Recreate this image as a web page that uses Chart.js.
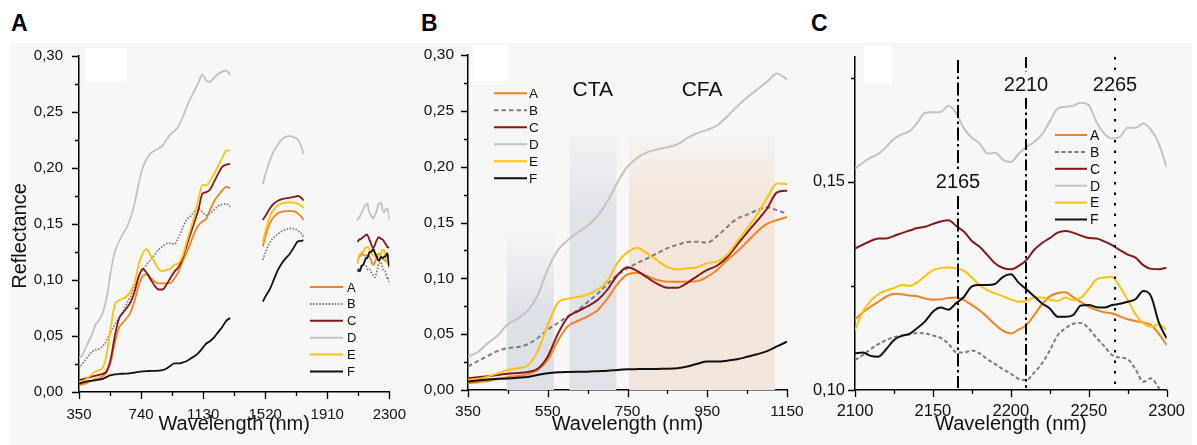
<!DOCTYPE html>
<html><head><meta charset="utf-8">
<script src="https://cdn.jsdelivr.net/npm/chart.js@4.4.1/dist/chart.umd.min.js"></script>
<style>
html,body{margin:0;padding:0;background:#fff;}
body{width:1197px;height:445px;position:relative;overflow:hidden;font-family:"Liberation Sans",Arial,sans-serif;}
#bg{position:absolute;left:10px;top:43px;width:1182px;height:402px;background:#f7f7f7;}
.sq{position:absolute;background:#fff;}
.pl{position:absolute;font-weight:bold;font-size:23px;line-height:1;color:#000;}
canvas{position:absolute;top:0;}
</style></head><body>
<div id="bg"></div>
<div class="sq" style="left:85px;top:48px;width:41px;height:34px"></div>
<div class="sq" style="left:473px;top:45px;width:35px;height:36px"></div>
<div class="sq" style="left:864px;top:46px;width:28px;height:38px"></div>
<div class="pl" style="left:11px;top:12px">A</div>
<div class="pl" style="left:421px;top:12px">B</div>
<div class="pl" style="left:811px;top:12px">C</div>
<canvas id="cA" style="left:0px" width="420" height="445"></canvas>
<canvas id="cB" style="left:400px" width="420" height="445"></canvas>
<canvas id="cC" style="left:800px" width="397" height="445"></canvas>
<script>
// ---------------- DATA ----------------
const seriesNames = ['A', 'B', 'C', 'D', 'E', 'F'];

// VNIR region (350–1300 nm)
const wlVnir = [350,375,400,425,450,475,500,525,550,575,600,625,650,675,700,725,750,775,800,825,850,875,900,925,950,975,1000,1025,1050,1075,1100,1125,1150,1175,1200,1225,1250,1275,1300];
const vnirA = [0.006,0.007,0.008,0.0098,0.0115,0.0125,0.014,0.018,0.027,0.044,0.057,0.0618,0.066,0.0715,0.082,0.095,0.1035,0.105,0.102,0.0985,0.097,0.097,0.097,0.0975,0.1015,0.1075,0.1164,0.124,0.1328,0.1418,0.1487,0.1522,0.155,0.163,0.1705,0.1755,0.180,0.1832,0.182];
const vnirB = [0.021,0.026,0.0305,0.035,0.0375,0.0385,0.041,0.0465,0.054,0.060,0.066,0.0716,0.0787,0.0862,0.095,0.103,0.1088,0.1138,0.118,0.1225,0.127,0.130,0.1325,0.1328,0.132,0.138,0.146,0.1535,0.157,0.161,0.1636,0.161,0.1578,0.160,0.163,0.166,0.1675,0.168,0.1655];
const vnirC = [0.0104,0.0115,0.0123,0.0135,0.0145,0.0153,0.0162,0.019,0.030,0.050,0.065,0.0705,0.075,0.0805,0.090,0.103,0.110,0.1065,0.1005,0.095,0.0915,0.0915,0.096,0.102,0.1075,0.1115,0.119,0.130,0.141,0.1515,0.1625,0.177,0.1785,0.181,0.188,0.195,0.201,0.203,0.2035];
const vnirD = [0.030,0.034,0.042,0.049,0.059,0.064,0.071,0.085,0.108,0.125,0.134,0.141,0.147,0.156,0.169,0.186,0.200,0.208,0.213,0.2155,0.2175,0.220,0.2255,0.230,0.233,0.237,0.245,0.254,0.262,0.269,0.276,0.2835,0.278,0.277,0.281,0.284,0.286,0.287,0.283];
const vnirE = [0.009,0.010,0.012,0.015,0.018,0.0195,0.022,0.035,0.058,0.078,0.0818,0.0832,0.0855,0.090,0.098,0.114,0.1235,0.1275,0.122,0.116,0.110,0.108,0.109,0.110,0.1138,0.115,0.121,0.133,0.145,0.157,0.172,0.185,0.1845,0.189,0.195,0.202,0.209,0.2155,0.2155];
const vnirF = [0.0075,0.0085,0.0095,0.0100,0.0104,0.011,0.0117,0.0135,0.015,0.0158,0.0161,0.0163,0.0164,0.0169,0.0173,0.018,0.0185,0.0187,0.0188,0.0189,0.019,0.0195,0.021,0.0235,0.0255,0.0255,0.0263,0.0275,0.0297,0.032,0.0348,0.039,0.0433,0.0455,0.049,0.0535,0.058,0.0635,0.066];

// SWIR-1 region (1505–1760 nm)
const wlSwir1 = [1505,1525,1550,1575,1600,1625,1650,1675,1700,1725,1750,1760];
const swir1A = [0.130,0.141,0.151,0.1565,0.1595,0.161,0.1615,0.1616,0.1612,0.1595,0.156,0.1536];
const swir1B = [0.118,0.126,0.1335,0.138,0.141,0.1435,0.145,0.146,0.1458,0.144,0.141,0.1387];
const swir1C = [0.1536,0.158,0.164,0.1683,0.1708,0.1722,0.1728,0.1735,0.1742,0.175,0.173,0.171];
const swir1D = [0.186,0.196,0.207,0.2155,0.221,0.2255,0.228,0.2285,0.2275,0.2255,0.218,0.2125];
const swir1E = [0.134,0.145,0.157,0.163,0.1665,0.1685,0.169,0.1693,0.169,0.168,0.166,0.164];
const swir1F = [0.0807,0.086,0.092,0.1005,0.109,0.115,0.1195,0.1235,0.129,0.1345,0.135,0.1357];

// SWIR-2 region (2100–2300 nm)
const wlSwir2 = [2100,2105,2110,2115,2120,2125,2130,2135,2140,2145,2150,2155,2160,2165,2170,2175,2180,2185,2190,2195,2200,2205,2210,2215,2220,2225,2230,2235,2240,2245,2250,2255,2260,2265,2270,2275,2280,2285,2290,2295,2300];
const swir2A = [0.1170,0.1186,0.1200,0.1212,0.1224,0.1231,0.1230,0.1227,0.1225,0.1220,0.1217,0.1218,0.1221,0.1222,0.1216,0.1204,0.1191,0.1175,0.1157,0.1142,0.1136,0.1145,0.1156,0.1180,0.1206,0.1225,0.1233,0.1235,0.1223,0.1211,0.1200,0.1192,0.1187,0.1184,0.1177,0.1170,0.1166,0.1162,0.1156,0.1135,0.1108];
const swir2B = [0.1072,0.1084,0.1098,0.1110,0.1120,0.1127,0.1131,0.1134,0.1137,0.1136,0.1131,0.1125,0.1111,0.1091,0.1090,0.1095,0.1088,0.1074,0.1062,0.1050,0.1039,0.1027,0.1024,0.1042,0.1064,0.1095,0.1131,0.1148,0.1159,0.1161,0.1148,0.1125,0.1105,0.1084,0.1078,0.1074,0.1050,0.1020,0.1028,0.1005,0.0980];
const swir2C = [0.1340,0.1349,0.1358,0.1364,0.1364,0.1370,0.1377,0.1383,0.1389,0.1392,0.1399,0.1405,0.1408,0.1394,0.1380,0.1358,0.1344,0.1324,0.1304,0.1293,0.1290,0.1298,0.1312,0.1337,0.1353,0.1365,0.1378,0.1382,0.1378,0.1371,0.1365,0.1364,0.1357,0.1348,0.1336,0.1325,0.1318,0.1300,0.1291,0.1290,0.1294];
const swir2D = [0.1532,0.1546,0.1558,0.1567,0.1584,0.1603,0.1614,0.1622,0.1642,0.1666,0.1667,0.1668,0.1683,0.1665,0.1628,0.1606,0.1592,0.1568,0.1570,0.1553,0.1548,0.1567,0.1584,0.1596,0.1614,0.1645,0.1676,0.1680,0.1683,0.1690,0.1684,0.1644,0.1616,0.1604,0.1608,0.1630,0.1630,0.1640,0.1625,0.1592,0.1536];
const swir2E = [0.1144,0.1188,0.1214,0.1230,0.1239,0.1245,0.1252,0.1250,0.1259,0.1274,0.1288,0.1293,0.1294,0.1292,0.1286,0.1270,0.1252,0.1240,0.1232,0.1225,0.1218,0.1212,0.1214,0.1222,0.1222,0.1217,0.1214,0.1222,0.1216,0.1222,0.1243,0.1266,0.1270,0.1272,0.1248,0.1216,0.1182,0.1160,0.1152,0.1158,0.1144];
const swir2F = [0.1088,0.1090,0.1082,0.1080,0.1098,0.1120,0.1130,0.1135,0.1149,0.1165,0.1188,0.1198,0.1193,0.1209,0.1224,0.1249,0.1252,0.1252,0.1255,0.1272,0.1278,0.1258,0.1242,0.1225,0.1208,0.1196,0.1176,0.1176,0.1180,0.1203,0.1204,0.1199,0.1198,0.1204,0.1207,0.1212,0.1218,0.1238,0.1225,0.1162,0.1124];

// Axis tick labels
const xTicksA = [350, 740, 1130, 1520, 1910, 2300];
const xMinorA = [545, 935, 1325, 1715, 2105];
const yTicksAB = [0, 0.05, 0.10, 0.15, 0.20, 0.25, 0.30];
const yMinorAB = [0.025, 0.075, 0.125, 0.175, 0.225, 0.275];
const xTicksB = [350, 550, 750, 950, 1150];
const xMinorB = [450, 650, 850, 1050];
const xTicksC = [2100, 2150, 2200, 2250, 2300];
const xMinorC = [2125, 2175, 2225, 2275];
const yTicksC = [0.10, 0.15];
const yMinorC = [0.125, 0.175];

// Panel B absorption bands
const bandStart = [447, 604, 754];
const bandEnd = [565, 722, 1120];
const bandTop = [0.142, 0.228, 0.227];
const bandLabels = ['', 'CTA', 'CFA'];

// Panel C feature markers
const markerWl = [2166, 2210, 2267];
const markerLabels = ['2165', '2210', '2265'];
const markerLabelY = [0.150, 0.1735, 0.1735];

// ---------------- STYLE ----------------
const FONT = '"Liberation Sans", Arial, Helvetica, sans-serif';
const colors = ['#f7821f', '#7d7d7d', '#861818', '#c2c2c2', '#ffc20e', '#101010'];
const vnir = [vnirA, vnirB, vnirC, vnirD, vnirE, vnirF];
const swir1 = [swir1A, swir1B, swir1C, swir1D, swir1E, swir1F];
const swir2 = [swir2A, swir2B, swir2C, swir2D, swir2E, swir2F];

function pts(wl, vals, maxWl) {
  const out = [];
  wl.forEach((w, i) => { if (maxWl === undefined || w <= maxWl) out.push({x: w, y: vals[i]}); });
  return out;
}

function makeDatasets(dataFn, dashB, width) {
  return seriesNames.map((name, i) => ({
    label: name,
    data: dataFn(i),
    borderColor: colors[i],
    backgroundColor: colors[i],
    borderWidth: width,
    borderDash: i === 1 ? dashB : [],
    pointRadius: 0,
    cubicInterpolationMode: 'monotone',
    spanGaps: false,
    fill: false,
    order: [5, 4, 3, 6, 2, 1][i]
  }));
}

const axisTicksPlugin = {
  id: 'axisTicks',
  afterDraw(chart, args, opts) {
    const ctx = chart.ctx, xs = chart.scales.x, ys = chart.scales.y;
    const a = chart.chartArea;
    ctx.save();
    ctx.strokeStyle = '#000';
    ctx.lineWidth = 1.3;
    ctx.beginPath();
    (opts.xMajor || []).forEach(v => { const p = Math.round(xs.getPixelForValue(v)) + 0.5; ctx.moveTo(p, a.bottom); ctx.lineTo(p, a.bottom + 7); });
    (opts.xMinor || []).forEach(v => { const p = Math.round(xs.getPixelForValue(v)) + 0.5; ctx.moveTo(p, a.bottom); ctx.lineTo(p, a.bottom + 4); });
    (opts.yMajor || []).forEach(v => { const p = Math.round(ys.getPixelForValue(v)) + 0.5; ctx.moveTo(a.left, p); ctx.lineTo(a.left - 7, p); });
    (opts.yMinor || []).forEach(v => { const p = Math.round(ys.getPixelForValue(v)) + 0.5; ctx.moveTo(a.left, p); ctx.lineTo(a.left - 4, p); });
    ctx.stroke();
    if (opts.yTitle) {
      ctx.fillStyle = '#111';
      ctx.font = '20px ' + FONT;
      ctx.textAlign = 'center';
      ctx.textBaseline = 'middle';
      ctx.translate(opts.yTitleX, opts.yTitleY);
      ctx.rotate(-Math.PI / 2);
      ctx.fillText(opts.yTitle, 0, 0);
    }
    ctx.restore();
  }
};

const customLegendPlugin = {
  id: 'customLegend',
  afterDatasetsDraw(chart, args, opts) {
    if (!opts || !opts.show) return;
    const ctx = chart.ctx;
    ctx.save();
    ctx.font = opts.fontSize + 'px ' + FONT;
    ctx.textBaseline = 'middle';
    ctx.textAlign = 'left';
    chart.data.datasets.forEach((ds, i) => {
      const y = opts.y0 + i * opts.dy;
      ctx.strokeStyle = ds.borderColor;
      ctx.lineWidth = 2;
      ctx.setLineDash(ds.borderDash || []);
      ctx.beginPath();
      ctx.moveTo(opts.x1, y);
      ctx.lineTo(opts.x2, y);
      ctx.stroke();
      ctx.setLineDash([]);
      ctx.fillStyle = '#111';
      ctx.fillText(ds.label, opts.tx, y + 1);
    });
    ctx.restore();
  }
};

const bandsPlugin = {
  id: 'bands',
  beforeDatasetsDraw(chart, args, opts) {
    if (!opts || !opts.show) return;
    const ctx = chart.ctx, xs = chart.scales.x, ys = chart.scales.y;
    const bottom = chart.chartArea.bottom;
    const styles = [
      {rgb: '221,224,231', a0: 0.05, s: 0.5},
      {rgb: '224,226,233', a0: 0.25, s: 0.3},
      {rgb: '243,229,218', a0: 0.25, s: 0.25}
    ];
    ctx.save();
    bandStart.forEach((s, i) => {
      const x0 = xs.getPixelForValue(s), x1 = xs.getPixelForValue(bandEnd[i]);
      const top = ys.getPixelForValue(bandTop[i]);
      const st = styles[i];
      const g = ctx.createLinearGradient(0, top, 0, bottom);
      g.addColorStop(0, 'rgba(' + st.rgb + ',' + st.a0 + ')');
      g.addColorStop(st.s, 'rgba(' + st.rgb + ',1)');
      g.addColorStop(1, 'rgba(' + st.rgb + ',1)');
      ctx.fillStyle = g;
      ctx.fillRect(x0, top, x1 - x0, bottom - top);
    });
    ctx.fillStyle = '#111';
    ctx.font = '21px ' + FONT;
    ctx.textAlign = 'center';
    ctx.textBaseline = 'middle';
    bandLabels.forEach((t, i) => {
      if (!t) return;
      const cx = xs.getPixelForValue((bandStart[i] + bandEnd[i]) / 2);
      ctx.fillText(t, cx, ys.getPixelForValue(0.2685));
    });
    ctx.restore();
  }
};

const markersPlugin = {
  id: 'markers',
  afterDatasetsDraw(chart, args, opts) {
    if (!opts || !opts.show) return;
    const ctx = chart.ctx, xs = chart.scales.x, ys = chart.scales.y;
    const a = chart.chartArea;
    const dashes = [[13, 3.5, 2.5, 3.5], [11, 3.5, 2.5, 3.5], [2.5, 8]];
    const tops = [a.top + 3, a.top, a.top];
    ctx.save();
    markerWl.forEach((w, i) => {
      const x = Math.round(xs.getPixelForValue(w));
      const ly = ys.getPixelForValue(markerLabelY[i]);
      ctx.strokeStyle = '#000';
      ctx.lineWidth = 2;
      ctx.setLineDash(dashes[i]);
      ctx.beginPath();
      ctx.moveTo(x, tops[i]); ctx.lineTo(x, ly - 12);
      ctx.moveTo(x, ly + 14); ctx.lineTo(x, a.bottom - 2);
      ctx.stroke();
      ctx.setLineDash([]);
      ctx.fillStyle = '#111';
      ctx.font = '20px ' + FONT;
      ctx.textAlign = 'center';
      ctx.textBaseline = 'middle';
      ctx.fillText(markerLabels[i], x, ly + 1);
    });
    ctx.restore();
  }
};

Chart.register(axisTicksPlugin, customLegendPlugin, bandsPlugin, markersPlugin);

const fmtComma = v => Number(v).toFixed(2).replace('.', ',');

function buildChart(id, cfg) {
  return new Chart(document.getElementById(id), {
    type: 'line',
    data: {datasets: cfg.datasets},
    options: {
      responsive: false,
      animation: false,
      devicePixelRatio: 1,
      layout: {padding: cfg.padding},
      plugins: {
        legend: {display: false},
        tooltip: {enabled: false},
        axisTicks: cfg.ticks,
        customLegend: cfg.legend,
        bands: cfg.bands || {show: false},
        markers: cfg.markers || {show: false}
      },
      scales: {
        x: {
          type: 'linear',
          min: cfg.xMin, max: cfg.xMax,
          afterBuildTicks: s => { s.ticks = cfg.xTicks.map(v => ({value: v})); },
          afterFit: s => { s.height = cfg.xHeight; },
          grid: {display: false, drawTicks: false},
          border: {display: true, color: '#000', width: 1.5},
          ticks: {color: '#111', padding: cfg.xPad, autoSkip: false, maxRotation: 0, font: {family: FONT, size: cfg.tickFont}, callback: v => String(v)},
          title: {display: true, text: 'Wavelength (nm)', color: '#111', font: {family: FONT, size: 20, lineHeight: 1.2}, padding: {top: 0, bottom: 9}}
        },
        y: {
          type: 'linear',
          min: cfg.yMin, max: cfg.yMax,
          afterBuildTicks: s => { s.ticks = cfg.yTicks.map(v => ({value: v})); },
          afterFit: s => { s.width = cfg.yWidth; },
          grid: {display: false, drawTicks: false},
          border: {display: true, color: '#000', width: 1.5},
          ticks: {color: '#111', padding: cfg.yPad, font: {family: FONT, size: cfg.tickFont}, callback: fmtComma},
          title: {display: false}
        }
      }
    }
  });
}

// Panel A: full spectrum with gaps at water absorption bands
buildChart('cA', {
  datasets: makeDatasets(i => [].concat(pts(wlVnir, vnir[i]), [{x: 1400, y: null}], pts(wlSwir1, swir1[i]), [{x: 1930, y: null}], pts(wlSwir2, swir2[i])), [1.5, 1.6], 1.8),
  padding: {left: 0, top: 56, right: 21, bottom: 0},
  xMin: 350, xMax: 2300, yMin: 0, yMax: 0.30,
  xTicks: xTicksA, yTicks: yTicksAB,
  xHeight: 53, yWidth: 79, xPad: 14, yPad: 16, tickFont: 15,
  ticks: {xMajor: xTicksA, xMinor: xMinorA, yMajor: yTicksAB, yMinor: yMinorAB, yTitle: 'Reflectance', yTitleX: 20, yTitleY: 236},
  legend: {show: true, x1: 310, x2: 343, tx: 347, y0: 287, dy: 16.9, fontSize: 13}
});

// Panel B: VNIR detail
buildChart('cB', {
  datasets: makeDatasets(i => pts(wlVnir, vnir[i], 1150), [4.5, 3], 2),
  padding: {left: 0, top: 55, right: 33, bottom: 0},
  xMin: 350, xMax: 1150, yMin: 0, yMax: 0.30,
  xTicks: xTicksB, yTicks: yTicksAB,
  xHeight: 55, yWidth: 68, xPad: 12, yPad: 14, tickFont: 15.5,
  ticks: {xMajor: xTicksB, xMinor: xMinorB, yMajor: yTicksAB, yMinor: yMinorAB},
  legend: {show: true, x1: 94, x2: 127, tx: 129, y0: 93.3, dy: 17, fontSize: 13.5},
  bands: {show: true}
});

// Panel C: SWIR-2 detail
buildChart('cC', {
  datasets: makeDatasets(i => pts(wlSwir2, swir2[i]), [4, 2.5], 2),
  padding: {left: 0, top: 57, right: 24, bottom: 0},
  xMin: 2100, xMax: 2300, yMin: 0.10, yMax: 0.18,
  xTicks: xTicksC, yTicks: yTicksC,
  xHeight: 55, yWidth: 55, xPad: 12, yPad: 10, tickFont: 16.5,
  ticks: {xMajor: xTicksC, xMinor: xMinorC, yMajor: yTicksC, yMinor: yMinorC},
  legend: {show: true, x1: 255, x2: 287, tx: 290, y0: 135, dy: 16.9, fontSize: 14},
  markers: {show: true}
});
</script>
</body></html>
